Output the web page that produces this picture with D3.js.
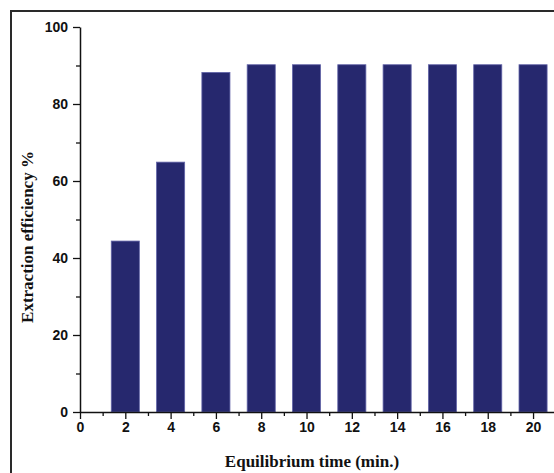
<!DOCTYPE html>
<html>
<head>
<meta charset="utf-8">
<script src="https://cdn.jsdelivr.net/npm/d3@7"></script>
<style>
  body { margin: 0; background: #fff; }
  .tick text { font-family: "Liberation Sans", Arial, sans-serif; font-weight: bold; font-size: 14px; fill: #111; }
  .title { font-family: "Liberation Serif", "Times New Roman", serif; font-weight: bold; font-size: 17px; fill: #111; }
</style>
</head>
<body>
<div id="chart"></div>
<script>
// data
const times = [2, 4, 6, 8, 10, 12, 14, 16, 18, 20];
const efficiency = [44.4, 64.9, 88.2, 90.2, 90.2, 90.2, 90.2, 90.2, 90.2, 90.2];
const xTicks = [0, 2, 4, 6, 8, 10, 12, 14, 16, 18, 20];
const yTicks = [0, 20, 40, 60, 80, 100];

const W = 554, H = 473;
const svg = d3.select("#chart").append("svg")
  .attr("width", W).attr("height", H);

// frame round the figure (runs off right/bottom edge)
svg.append("rect")
  .attr("x", 11).attr("y", 11)
  .attr("width", 600).attr("height", 500)
  .attr("fill", "none").attr("stroke", "#2a2a2a").attr("stroke-width", 2);

const xScale = d3.scaleLinear().domain([0, 21]).range([80, 555.7]);
const yScale = d3.scaleLinear().domain([0, 100]).range([412, 27]);
const barW = xScale(1.24) - xScale(0);

svg.selectAll("rect.bar")
  .data(times)
  .enter().append("rect")
  .attr("class", "bar")
  .attr("x", (d) => xScale(d) - barW / 2)
  .attr("y", (d, i) => yScale(efficiency[i]))
  .attr("width", barW)
  .attr("height", (d, i) => yScale(0) - yScale(efficiency[i]))
  .attr("fill", "#26286e")
  .attr("stroke", "#6264a8")
  .attr("stroke-width", 0.8);

// minor ticks
svg.append("g")
  .attr("transform", "translate(0,412)")
  .call(d3.axisBottom(xScale).tickValues(d3.range(1, 21, 2)).tickSize(4).tickFormat(""))
  .call(g => g.select(".domain").remove())
  .selectAll("line").attr("stroke", "#111").attr("stroke-width", 1.3);
svg.append("g")
  .attr("transform", "translate(80,0)")
  .call(d3.axisLeft(yScale).tickValues(d3.range(10, 100, 20)).tickSize(4).tickFormat(""))
  .call(g => g.select(".domain").remove())
  .selectAll("line").attr("stroke", "#111").attr("stroke-width", 1.3);

// major axes
const xAxis = svg.append("g")
  .attr("transform", "translate(0,412)")
  .call(d3.axisBottom(xScale).tickValues(xTicks).tickSize(7).tickPadding(3).tickSizeOuter(0));
const yAxis = svg.append("g")
  .attr("transform", "translate(80,0)")
  .call(d3.axisLeft(yScale).tickValues(yTicks).tickSize(7).tickPadding(5).tickSizeOuter(0));
[xAxis, yAxis].forEach(g => {
  g.select(".domain").attr("stroke", "#111").attr("stroke-width", 1.5);
  g.selectAll("line").attr("stroke", "#111").attr("stroke-width", 1.3);
});
yAxis.selectAll(".tick text").attr("dy", "0.35em");

svg.append("text").attr("class", "title")
  .attr("x", 312).attr("y", 467)
  .attr("text-anchor", "middle")
  .text("Equilibrium time (min.)");

svg.append("text").attr("class", "title")
  .attr("transform", "translate(33,237) rotate(-90)")
  .attr("text-anchor", "middle")
  .text("Extraction efficiency %");
</script>
</body>
</html>
